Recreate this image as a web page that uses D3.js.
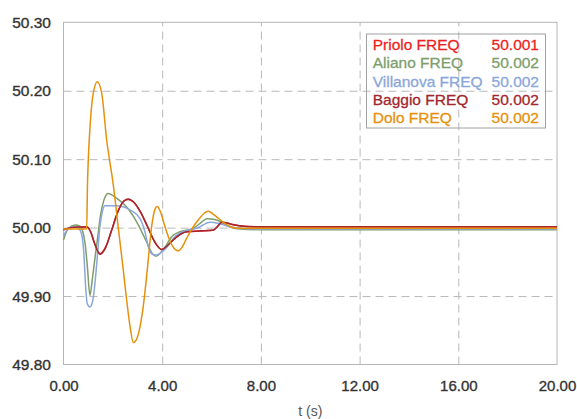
<!DOCTYPE html>
<html>
<head>
<meta charset="utf-8">
<script src="https://cdn.jsdelivr.net/npm/d3@7"></script>
<style>
  html, body { margin: 0; padding: 0; background: #fff; }
  svg { display: block; font-family: "Liberation Sans", Arial, Helvetica, sans-serif; }
</style>
</head>
<body>
<svg id="chart" width="577" height="419"></svg>
<script>
// ---- data ----
const xTicks = [0, 4, 8, 12, 16, 20];
const yTicks = [49.80, 49.90, 50.00, 50.10, 50.20, 50.30];
const xLabel = "t (s)";

const seriesNames = ["Priolo FREQ", "Aliano FREQ", "Villanova FREQ", "Baggio FREQ", "Dolo FREQ"];
const seriesValuesText = ["50.001", "50.002", "50.002", "50.002", "50.002"];
const seriesColors = ["#ee1f1f", "#7d9e6a", "#8aa6dc", "#a2272e", "#e6910c"];

const baggioT = [0, 0.3, 0.6, 0.95, 1.1, 1.25, 1.48, 1.7, 1.95, 2.2, 2.45, 2.63, 2.85, 3.1, 3.4, 3.7, 3.98, 4.25, 4.5, 5.0, 5.5, 6.05, 6.2, 6.42, 6.8, 7.3, 8, 20];
const baggioV = [49.997, 50.000, 50.001, 50.001, 49.994, 49.978, 49.961, 49.970, 49.996, 50.023, 50.039, 50.042, 50.037, 50.024, 50.002, 49.979, 49.968, 49.975, 49.984, 49.994, 49.995, 49.996, 50.000, 50.008, 50.005, 50.002, 50.0012, 50.0012];

const prioloT = [0, 0.3, 0.6, 0.95, 1.1, 1.25, 1.48, 1.7, 1.95, 2.2, 2.45, 2.63, 2.85, 3.1, 3.4, 3.7, 3.98, 4.25, 4.5, 5.0, 5.5, 6.05, 6.2, 6.42, 6.8, 7.3, 8, 20];
const prioloV = [49.997, 50.000, 50.001, 50.001, 49.994, 49.978, 49.962, 49.971, 49.996, 50.023, 50.039, 50.041, 50.037, 50.024, 50.002, 49.979, 49.968, 49.975, 49.984, 49.994, 49.995, 49.996, 50.000, 50.008, 50.005, 50.002, 50.0008, 50.0008];

const alianoT = [0, 0.2, 0.47, 0.67, 0.87, 0.97, 1.07, 1.17, 1.28, 1.4, 1.5, 1.62, 1.8, 2.15, 2.56, 2.97, 3.37, 3.6, 3.75, 4.04, 4.45, 4.72, 5.26, 5.6, 5.8, 6.21, 6.75, 7.15, 8, 20];
const alianoV = [49.982, 49.999, 50.004, 50.002, 49.978, 49.942, 49.901, 49.925, 49.957, 49.990, 50.018, 50.038, 50.050, 50.043, 50.030, 50.008, 49.979, 49.962, 49.958, 49.968, 49.989, 49.994, 49.999, 50.008, 50.013, 50.011, 50.001, 49.998, 49.997, 49.997];

const villanovaT = [0, 0.15, 0.35, 0.55, 0.72, 0.82, 0.9, 0.96, 1.07, 1.15, 1.25, 1.37, 1.47, 1.55, 1.68, 2.15, 2.69, 3.1, 3.3, 3.44, 3.6, 3.75, 4.1, 4.59, 5.0, 5.4, 5.94, 6.4, 6.9, 8, 20];
const villanovaV = [49.988, 49.997, 50.001, 50.001, 49.992, 49.965, 49.912, 49.889, 49.884, 49.888, 49.910, 49.957, 50.000, 50.019, 50.032, 50.032, 50.026, 50.013, 49.994, 49.972, 49.961, 49.960, 49.968, 49.989, 49.996, 49.999, 50.008, 50.005, 50.000, 49.998, 49.998];

const doloT = [0, 0.94, 0.97, 1.0, 1.08, 1.2, 1.37, 1.55, 1.75, 2.02, 2.22, 2.4, 2.56, 2.7, 2.83, 2.95, 3.1, 3.25, 3.4, 3.57, 3.71, 3.8, 3.92, 4.1, 4.3, 4.5, 4.65, 4.8, 5.0, 5.2, 5.5, 5.7, 5.87, 6.05, 6.3, 6.55, 6.8, 7.1, 8, 20];
const doloV = [49.998, 49.998, 50.060, 50.095, 50.150, 50.195, 50.213, 50.196, 50.128, 50.062, 50.000, 49.945, 49.894, 49.855, 49.832, 49.836, 49.855, 49.890, 49.940, 50.001, 50.027, 50.031, 50.024, 50.003, 49.982, 49.969, 49.966, 49.971, 49.985, 49.998, 50.013, 50.021, 50.024, 50.020, 50.013, 50.006, 50.001, 49.999, 49.999, 49.999];

const seriesT = [prioloT, alianoT, villanovaT, baggioT, doloT];
const seriesV = [prioloV, alianoV, villanovaV, baggioV, doloV];

// ---- layout ----
const svg = d3.select("#chart");
const pLeft = 63.5, pRight = 557, pTop = 22.3, pBottom = 364.5;
const x = d3.scaleLinear().domain([0, 20]).range([pLeft, pRight]);
const y = d3.scaleLinear().domain([49.80, 50.30]).range([pBottom, pTop]);

const gridColor = "#b9b9b9";

// gridlines
const gx = svg.append("g").attr("transform", `translate(0,${pBottom})`)
  .call(d3.axisBottom(x).tickValues(xTicks.slice(1, -1)).tickSize(-(pBottom - pTop)).tickFormat(""));
gx.select(".domain").remove();
gx.selectAll("line").attr("stroke", gridColor).attr("stroke-width", 1).attr("stroke-dasharray", "8,5");

const gy = svg.append("g").attr("transform", `translate(${pLeft},0)`)
  .call(d3.axisLeft(y).tickValues(yTicks.slice(1, -1)).tickSize(-(pRight - pLeft)).tickFormat(""));
gy.select(".domain").remove();
gy.selectAll("line").attr("stroke", gridColor).attr("stroke-width", 1).attr("stroke-dasharray", "8,5");

// frame
svg.append("rect").attr("x", pLeft).attr("y", pTop).attr("width", pRight - pLeft).attr("height", pBottom - pTop)
  .attr("fill", "none").attr("stroke", "#b5b5b5").attr("stroke-width", 1);

// axis labels
const ax = svg.append("g").attr("transform", `translate(0,${pBottom})`)
  .call(d3.axisBottom(x).tickValues(xTicks).tickSize(0).tickPadding(16).tickFormat(d3.format(".2f")));
ax.select(".domain").remove();
ax.selectAll("text").attr("font-size", 15).attr("fill", "#333").attr("stroke", "#333").attr("stroke-width", 0.35)
  .attr("font-family", "Liberation Sans, Arial, sans-serif");

const ay = svg.append("g").attr("transform", `translate(${pLeft},0)`)
  .call(d3.axisLeft(y).tickValues(yTicks).tickSize(0).tickPadding(12.5).tickFormat(d3.format(".2f")));
ay.select(".domain").remove();
ay.selectAll("text").attr("font-size", 15.5).attr("fill", "#333").attr("stroke", "#333").attr("stroke-width", 0.35)
  .attr("font-family", "Liberation Sans, Arial, sans-serif");

svg.append("text").attr("x", (pLeft + pRight) / 2).attr("y", 416).attr("text-anchor", "middle")
  .attr("font-size", 14).attr("fill", "#555").text(xLabel);

// lines
const line = d3.line().x(d => x(d[0])).y(d => y(d[1])).curve(d3.curveMonotoneX);
seriesNames.forEach((name, i) => {
  const pts = seriesT[i].map((t, j) => [t, seriesV[i][j]]);
  svg.append("path").datum(pts).attr("d", line)
    .attr("fill", "none").attr("stroke", seriesColors[i]).attr("stroke-width", 1.5)
    .attr("stroke-linejoin", "round");
});

// legend
svg.append("rect").attr("x", 366.5).attr("y", 34).attr("width", 179).attr("height", 94)
  .attr("fill", "none").attr("stroke", "#a0a0a0").attr("stroke-width", 1);
seriesNames.forEach((name, i) => {
  const by = 50 + i * 18.3;
  svg.append("text").attr("x", 372.7).attr("y", by).attr("font-size", 15.5)
    .attr("fill", seriesColors[i]).attr("stroke", seriesColors[i]).attr("stroke-width", 0.3).text(name);
  svg.append("text").attr("x", 539).attr("y", by).attr("font-size", 15.5).attr("text-anchor", "end")
    .attr("fill", seriesColors[i]).attr("stroke", seriesColors[i]).attr("stroke-width", 0.3).text(seriesValuesText[i]);
});
</script>
</body>
</html>
